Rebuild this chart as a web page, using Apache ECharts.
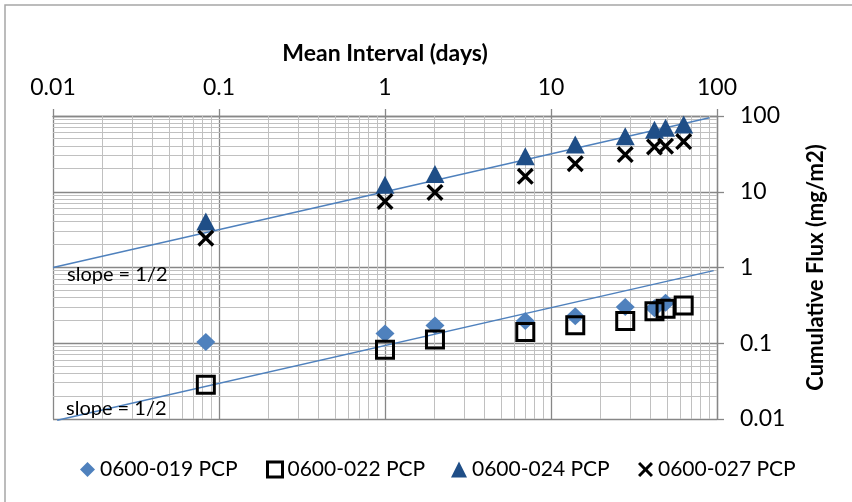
<!DOCTYPE html>
<html>
<head>
<meta charset="utf-8">
<script src="https://cdn.jsdelivr.net/npm/echarts@6/dist/echarts.min.js"></script>
<style>
  html, body { margin: 0; padding: 0; background: #fff; }
  #chart { width: 852px; height: 502px; }
</style>
</head>
<body>
<div id="chart"></div>
<script>
// Tick labels for both log axes
const xTickLabels = ['0.01', '0.1', '1', '10', '100'];
const yTickLabels = ['0.01', '0.1', '1', '10', '100'];

// Sampling intervals (days) shared by all four samples
const meanIntervalDays = [0.0833, 1, 2, 7, 14, 28, 42, 49, 63];

// Cumulative flux (mg/m2) per sample
const flux019 = [0.104, 0.134, 0.172, 0.196, 0.228, 0.30, 0.29, 0.342, null];
const flux022 = [0.0284, 0.082, 0.112, 0.141, 0.173, 0.197, 0.265, 0.286, 0.315];
const flux024 = [4.04, 12.4, 17.2, 29.4, 42, 54, 66, 70, 77];
const flux027 = [2.44, 7.44, 9.8, 16.0, 23.5, 31, 39, 40, 46];

const seriesNames = ['0600-019 PCP', '0600-022 PCP', '0600-024 PCP', '0600-027 PCP'];

// Reference lines with slope 1/2 on log-log axes (end points)
const slopeLineUpper = [[0.01, 1.0], [90, 94.9]];
const slopeLineLower = [[0.0106, 0.0096], [95.5, 0.909]];
const slopeText = 'slope = 1/2';

// Minor grid steps inside each decade
const decadeStarts = [0.01, 0.1, 1, 10];
const minorSteps = [2, 3, 4, 5, 6, 7, 8, 9];

const FONT = 'Lato, "Open Sans", sans-serif';
const GRID_MAJOR = '#878787';
const GRID_MINOR = '#C0C0C0';
const BLUE = '#4F81BD';
const NAVY = '#1F4E87';

const minorValues = [];
decadeStarts.forEach(d => minorSteps.forEach(s => minorValues.push(+(d * s).toPrecision(3))));

function pickLabel(labels, v) {
  let best = labels[0], bestD = Infinity;
  labels.forEach(l => {
    const d = Math.abs(Math.log10(+l) - Math.log10(v));
    if (d < bestD) { bestD = d; best = l; }
  });
  return best;
}

function pairs(ys) {
  return meanIntervalDays.map((x, i) => (ys[i] == null ? null : [x, ys[i]])).filter(Boolean);
}

const crossPath = 'path://M0,1.4L1.4,0L5,3.6L8.6,0L10,1.4L6.4,5L10,8.6L8.6,10L5,6.4L1.4,10L0,8.6L3.6,5Z';

// Marker styles, shared by the scatter series and their legend entries
const markerStyles = [
  { symbol: 'diamond', size: [19, 18], legendSize: 15, itemStyle: { color: BLUE, opacity: 1 } },
  { symbol: 'rect', size: 17, legendSize: 15,
    itemStyle: { color: 'rgba(0,0,0,0)', borderColor: '#000', borderWidth: 3, opacity: 1 } },
  { symbol: 'triangle', size: [19, 18], legendSize: 16, itemStyle: { color: NAVY, opacity: 1 } },
  { symbol: crossPath, size: 17, legendSize: 15, itemStyle: { color: '#000', opacity: 1 } }
];
const legendLefts = [75, 261, 446, 633];

function crisp(v) { return Math.round(v - 0.5) + 0.5; }

const chart = echarts.init(document.getElementById('chart'), null, { renderer: 'canvas' });

const option = {
  animation: false,
  backgroundColor: '#fff',
  textStyle: { fontFamily: FONT },
  grid: { left: 53, right: 135, top: 116, bottom: 83, containLabel: false },
  xAxis: {
    type: 'log', logBase: 10, min: 0.01, max: 100, position: 'top',
    name: 'Mean Interval (days)', nameLocation: 'middle', nameGap: 51,
    nameTextStyle: { fontFamily: FONT, fontWeight: 'bold', fontSize: 23, color: '#000' },
    axisLine: { show: true, lineStyle: { color: GRID_MAJOR, width: 1.3 } },
    axisTick: { show: true, inside: false, length: 7, lineStyle: { color: GRID_MAJOR, width: 1.3 } },
    axisLabel: { fontFamily: FONT, fontSize: 23, color: '#000', margin: 17,
      formatter: v => pickLabel(xTickLabels, v) },
    splitLine: { show: true, showMinLine: true, showMaxLine: true, lineStyle: { color: GRID_MAJOR, width: 1.3 } },
    minorTick: { show: false }, minorSplitLine: { show: false }
  },
  yAxis: {
    type: 'log', logBase: 10, min: 0.01, max: 100, position: 'right',
    name: 'Cumulative Flux (mg/m2)', nameLocation: 'middle', nameRotate: 90, nameGap: 88,
    nameTextStyle: { fontFamily: FONT, fontWeight: 'bold', fontSize: 22, color: '#000' },
    axisLine: { show: true, lineStyle: { color: GRID_MAJOR, width: 1.3 } },
    axisTick: { show: true, inside: false, length: 7, lineStyle: { color: GRID_MAJOR, width: 1.3 } },
    axisLabel: { fontFamily: FONT, fontSize: 23, color: '#000', margin: 23, align: 'left',
      formatter: v => pickLabel(yTickLabels, v) },
    splitLine: { show: true, showMinLine: true, showMaxLine: true, lineStyle: { color: GRID_MAJOR, width: 1.3 } },
    minorTick: { show: false }, minorSplitLine: { show: false }
  },
  legend: seriesNames.map((name, i) => ({
    left: legendLefts[i], top: 454, orient: 'horizontal',
    data: [{ name, icon: markerStyles[i].symbol, itemStyle: markerStyles[i].itemStyle }],
    itemGap: 0, itemWidth: markerStyles[i].legendSize, itemHeight: markerStyles[i].legendSize,
    textStyle: { fontFamily: FONT, fontSize: 21, color: '#000' },
    selectedMode: false
  })),
  graphic: [
    { type: 'rect', silent: true, z: -10,
      shape: { x: 5, y: 5, width: 1000, height: 1000 },
      style: { fill: null, stroke: '#A6A6A6', lineWidth: 1.5 } },
    { type: 'text', left: 67, top: 265, silent: true, z: 5,
      style: { text: slopeText, font: '20px ' + FONT, fill: '#000' } },
    { type: 'text', left: 66, top: 399, silent: true, z: 5,
      style: { text: slopeText, font: '20px ' + FONT, fill: '#000' } }
  ],
  series: [
    {
      name: 'minor-x', type: 'custom', z: 1, silent: true, clip: true,
      data: minorValues.map(v => [v, 1]),
      renderItem(params, api) {
        const v = api.value(0);
        const a = api.coord([v, 0.01]), b = api.coord([v, 100]);
        const x = crisp(a[0]);
        return { type: 'line', shape: { x1: x, y1: a[1], x2: x, y2: b[1] },
          style: { stroke: GRID_MINOR, lineWidth: 1 } };
      }
    },
    {
      name: 'minor-y', type: 'custom', z: 1, silent: true, clip: true,
      data: minorValues.map(v => [1, v]),
      renderItem(params, api) {
        const v = api.value(1);
        const a = api.coord([0.01, v]), b = api.coord([100, v]);
        const y = crisp(a[1]);
        return { type: 'line', shape: { x1: a[0], y1: y, x2: b[0], y2: y },
          style: { stroke: GRID_MINOR, lineWidth: 1 } };
      }
    },
    {
      name: 'slope-upper', type: 'line', z: 2, silent: true, clip: false,
      data: slopeLineUpper, symbol: 'none',
      lineStyle: { color: BLUE, width: 1.5 }
    },
    {
      name: 'slope-lower', type: 'line', z: 2, silent: true, clip: false,
      data: slopeLineLower, symbol: 'none',
      lineStyle: { color: BLUE, width: 1.5 }
    }
  ].concat([flux019, flux022, flux024, flux027].map((ys, i) => ({
    name: seriesNames[i], type: 'scatter', z: 3, data: pairs(ys),
    symbol: markerStyles[i].symbol, symbolSize: markerStyles[i].size,
    itemStyle: markerStyles[i].itemStyle,
    emphasis: { disabled: true }
  })))
};

chart.setOption(option);
</script>
</body>
</html>
